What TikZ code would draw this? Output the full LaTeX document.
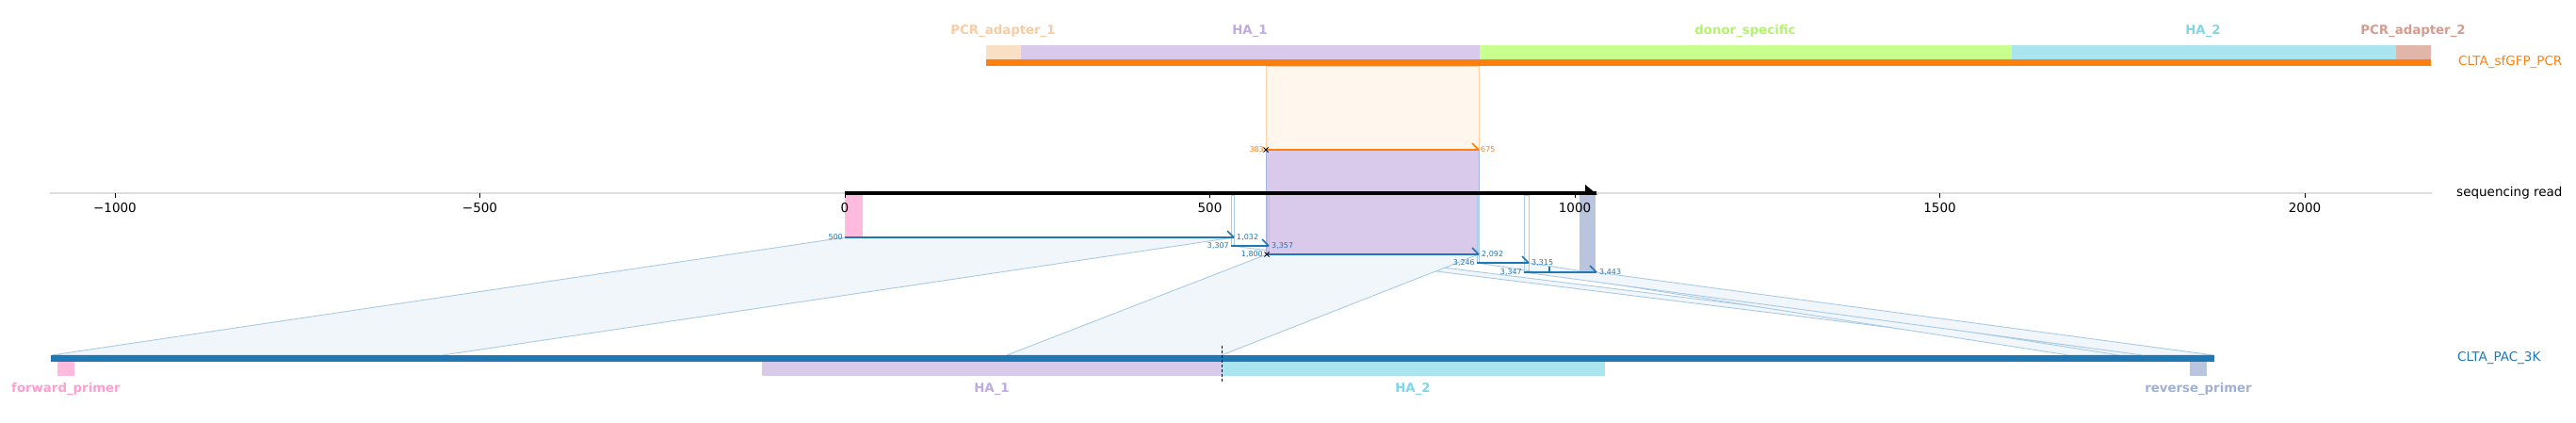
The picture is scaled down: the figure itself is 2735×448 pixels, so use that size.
\documentclass[tikz,border=0pt]{standalone}
\usepackage{fontspec}
\setmainfont{DejaVu Sans}
\usepackage{tikz}
\usetikzlibrary{positioning}

\definecolor{tabblue}{HTML}{1F77B4}
\definecolor{taborange}{HTML}{FF7F0E}
\definecolor{axisgray}{HTML}{DDDDDD}
\definecolor{featpeach}{HTML}{F9DFC3}
\definecolor{lblpeach}{HTML}{F8CBA0}
\definecolor{featpurple}{HTML}{D9C9EA}
\definecolor{lblpurple}{HTML}{C1A9E4}
\definecolor{featgreen}{HTML}{C8FF8E}
\definecolor{lblgreen}{HTML}{B2F46A}
\definecolor{featcyan}{HTML}{AAE5EF}
\definecolor{lblcyan}{HTML}{7FD6E6}
\definecolor{featsalmon}{HTML}{E2B5A9}
\definecolor{lblsalmon}{HTML}{D9998B}
\definecolor{featpink}{HTML}{FFBADD}
\definecolor{lblpink}{HTML}{FF9ECF}
\definecolor{featslate}{HTML}{B9C5DF}
\definecolor{lblslate}{HTML}{9FB0D6}
\definecolor{shadeblue}{HTML}{F1F6FA}
\definecolor{edgeblue}{HTML}{A8CAE4}
\definecolor{shadeorange}{HTML}{FFF6EE}
\definecolor{edgeorange}{HTML}{FFCFA6}
\definecolor{edgepurple}{HTML}{A3B4DE}

\begin{document}
\begin{tikzpicture}[x=1pt,y=-1pt,
      numlbl/.style={font=\fontsize{8}{9}\selectfont,inner sep=0pt},
      ticklbl/.style={font=\fontsize{13.5}{15}\selectfont,inner sep=0pt},
      featlbl/.style={font=\fontsize{13.3}{15}\selectfont\bfseries,inner sep=0pt},
      reflbl/.style={font=\fontsize{13.5}{15}\selectfont,inner sep=0pt,anchor=west},
      axtick/.style={black,line width=0.8pt},
      aln/.style={tabblue,line width=2pt},
      hook/.style={tabblue,line width=1.6pt},
      shade/.style={fill=shadeblue,draw=edgeblue,line width=0.9pt},
      overlap/.style={draw=edgeblue,line width=0.7pt},
      xmark/.style={black,line width=1pt}]
      \useasboundingbox (0,0) rectangle (2735,448);

      % alignment coordinates: read side (r) and reference side (g)
      \coordinate (r1s) at (897,252);  \coordinate (r1e) at (1310,252);
      \coordinate (r2s) at (1307,261); \coordinate (r2e) at (1347,261);
      \coordinate (r3s) at (1345,270); \coordinate (r3e) at (1570,270);
      \coordinate (r4s) at (1568,279); \coordinate (r4e) at (1623,279);
      \coordinate (r5s) at (1618,289); \coordinate (r5e) at (1695,289);
      \coordinate (g1s) at (55,377);   \coordinate (g1e) at (470,377);
      \coordinate (g2s) at (2244,377); \coordinate (g2e) at (2283,377);
      \coordinate (g3s) at (1069,377); \coordinate (g3e) at (1297,377);
      \coordinate (g4s) at (2196,377); \coordinate (g4e) at (2250,377);
      \coordinate (g5s) at (2275,377); \coordinate (g5e) at (2350,377);
      \coordinate (ds) at (1344,159);  \coordinate (de) at (1570,159);

      % shaded links to the amplicon
      \path[shade] (r1s) -- (r1e) -- (g1e) -- (g1s) -- cycle;
      \path[shade] (r2s) -- (r2e) -- (g2e) -- (g2s) -- cycle;
      \path[shade] (r3s) -- (r3e) -- (g3e) -- (g3s) -- cycle;
      \path[shade] (r4s) -- (r4e) -- (g4e) -- (g4s) -- cycle;
      \path[shade] (r5s) -- (r5e) -- (g5e) -- (g5s) -- cycle;

      % donor alignment shade and homology arm
      \filldraw[fill=shadeorange,draw=edgeorange,line width=0.7pt] (1344,70) rectangle (de);
      \filldraw[fill=featpurple,draw=edgepurple,line width=0.8pt] (ds) rectangle (r3e);

      % primers on the read
      \fill[featpink] (897,207) rectangle (916,252);
      \fill[featslate] (1677,207) rectangle (1694,288);

      % overlaps between neighbouring alignments
      \draw[overlap] (1307,207) rectangle (1310,261);
      \draw[overlap] (1345,207) rectangle (1347,270);
      \draw[overlap] (1568,207) rectangle (1570,279);
      \draw[overlap] (1618,207) rectangle (1623,289);

      % read axis
      \draw[axisgray,line width=1.2pt] (53,205) -- (2582,205);
      \draw[axtick] (122,205) -- (122,210);
      \draw[axtick] (509.5,205) -- (509.5,210);
      \draw[axtick] (897,205) -- (897,210);
      \draw[axtick] (1284.5,205) -- (1284.5,210);
      \draw[axtick] (1672,205) -- (1672,210);
      \draw[axtick] (2059.5,205) -- (2059.5,210);
      \draw[axtick] (2447,205) -- (2447,210);
      \node[ticklbl] (tm1000) at (122,221) {−1000};
      \node[ticklbl] (tm500) at (509.5,221) {−500};
      \node[ticklbl] (t0) at (897,221) {0};
      \node[ticklbl] (t500) at (1284.5,221) {500};
      \node[ticklbl] (t1000) at (1672,221) {1000};
      \node[ticklbl] (t1500) at (2059.5,221) {1500};
      \node[ticklbl] (t2000) at (2447,221) {2000};
      \coordinate (rs) at (897,205);
      \coordinate (re) at (1695,205);
      \draw[black,line width=3.5pt] (rs) -- (re);
      \fill[black] (1683,196) -- (1696,206.7) -- (1683,206.7) -- cycle;
      \node[reflbl] (read) at (2608,205) {sequencing read};

      % donor alignment
      \draw[taborange,line width=2.4pt] (ds) -- (de);
      \draw[taborange,line width=1.6pt] (de) ++(-7,-7) -- (de);
      \draw[xmark] (ds) ++(-2.5,-2.5) -- ++(5,5) (ds) ++(-2.5,2.5) -- ++(5,-5);
      \node[numlbl,taborange,left=2pt of ds] (d383) {383};
      \node[numlbl,taborange,right=2pt of de] (d675) {675};

      % amplicon alignments
      \draw[aln] (r1s) -- (r1e);  \draw[hook] (r1e) ++(-7,-7) -- (r1e);
      \draw[aln] (r2s) -- (r2e);  \draw[hook] (r2e) ++(-7,-7) -- (r2e);
      \draw[aln] (r3s) -- (r3e);  \draw[hook] (r3e) ++(-7,-7) -- (r3e);
      \draw[aln] (r4s) -- (r4e);  \draw[hook] (r4e) ++(-7,-7) -- (r4e);
      \draw[aln] (r5s) -- (r5e);  \draw[hook] (r5e) ++(-7,-7) -- (r5e);
      \draw[hook] (1645,283) -- (1645,289);
      \draw[xmark] (r3s) ++(-2.5,-2.5) -- ++(5,5) (r3s) ++(-2.5,2.5) -- ++(5,-5);
      \node[numlbl,tabblue,left=2pt of r1s] (a500) {500};
      \node[numlbl,tabblue,right=3pt of r1e] (a1032) {1,032};
      \node[numlbl,tabblue,left=2pt of r2s] (a3307) {3,307};
      \node[numlbl,tabblue,right=3pt of r2e] (a3357) {3,357};
      \node[numlbl,tabblue,left=4pt of r3s] (a1800) {1,800};
      \node[numlbl,tabblue,right=3pt of r3e] (a2092) {2,092};
      \node[numlbl,tabblue,left=2pt of r4s] (a3246) {3,246};
      \node[numlbl,tabblue,right=3pt of r4e] (a3315) {3,315};
      \node[numlbl,tabblue,left=2pt of r5s] (a3347) {3,347};
      \node[numlbl,tabblue,right=3pt of r5e] (a3443) {3,443};

      % donor reference CLTA_sfGFP_PCR
      \fill[taborange] (1047,63) rectangle (2581,70);
      \fill[featpeach] (1047,48) rectangle (1084,63);
      \fill[featpurple] (1084,48) rectangle (1571,63);
      \fill[featgreen] (1571,48) rectangle (2136,63);
      \fill[featcyan] (2136,48) rectangle (2544,63);
      \fill[featsalmon] (2544,48) rectangle (2581,63);
      \node[featlbl,lblpeach] (pa1) at (1065,33) {PCR\_adapter\_1};
      \node[featlbl,lblpurple] (ha1top) at (1327,33) {HA\_1};
      \node[featlbl,lblgreen] (donor) at (1853,33) {donor\_specific};
      \node[featlbl,lblcyan] (ha2top) at (2339,33) {HA\_2};
      \node[featlbl,lblsalmon] (pa2) at (2562,33) {PCR\_adapter\_2};
      \node[reflbl,taborange] (pcr) at (2610,66) {CLTA\_sfGFP\_PCR};

      % amplicon reference CLTA_PAC_3K
      \fill[tabblue] (54,377) rectangle (2351,384);
      \fill[featpink] (61,384) rectangle (79,399);
      \fill[featpurple] (809,384) rectangle (1297,399);
      \fill[featcyan] (1297,384) rectangle (1704,399);
      \fill[featslate] (2325,384) rectangle (2343,399);
      \draw[black,dashed,line width=0.8pt,dash pattern=on 3pt off 2pt] (1297,367) -- (1297,405);
      \node[featlbl,lblpink] (fwd) at (70,413) {forward\_primer};
      \node[featlbl,lblpurple] (ha1bot) at (1053,413) {HA\_1};
      \node[featlbl,lblcyan] (ha2bot) at (1500,413) {HA\_2};
      \node[featlbl,lblslate] (rev) at (2334,413) {reverse\_primer};
      \node[reflbl,tabblue] (pac) at (2609,380) {CLTA\_PAC\_3K};
\end{tikzpicture}
\end{document}
